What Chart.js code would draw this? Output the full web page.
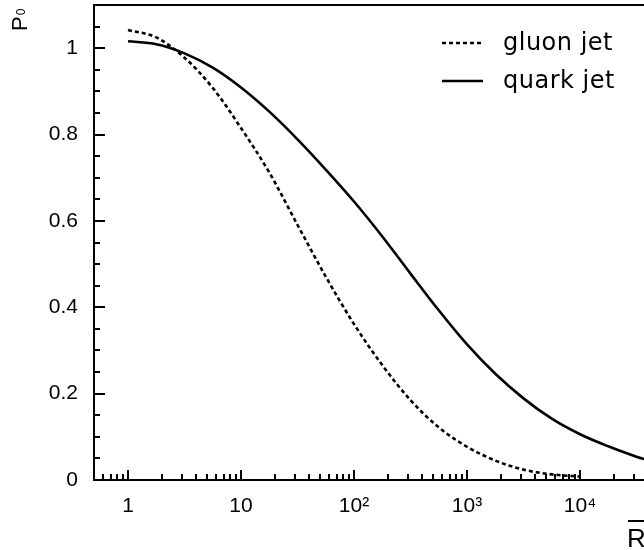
<!DOCTYPE html>
<html>
<head>
<meta charset="utf-8">
<script src="https://cdn.jsdelivr.net/npm/chart.js@4.4.1/dist/chart.umd.min.js"></script>
<style>
  html, body { margin: 0; padding: 0; background: #fff; overflow: hidden; }
  #wrap { width: 644px; height: 550px; }
</style>
</head>
<body>
<div id="wrap"><canvas id="c" width="644" height="550"></canvas></div>
<script>
// ---- data (R at quarter-decade steps) ----
const rValues = [1, 1.78, 3.16, 5.62, 10, 17.8, 31.6, 56.2, 100, 178, 316, 562,
                 1000, 1780, 3160, 5620, 10000, 17800, 31600, 56200];
const gluonP = [1.042, 1.025, 0.978, 0.908, 0.815, 0.712, 0.591, 0.471, 0.361, 0.266, 0.185, 0.122,
                0.077, 0.045, 0.024, 0.013, 0.008];
const quarkP = [1.016, 1.009, 0.988, 0.955, 0.909, 0.853, 0.789, 0.719, 0.645, 0.564, 0.478, 0.393,
                0.314, 0.246, 0.189, 0.142, 0.106, 0.078, 0.054, 0.035];
const seriesNames = ['gluon jet', 'quark jet'];
const xTickValues = [1, 10, 100, 1000, 10000];
const xTickLabels = ['1', '10', '10\u00B2', '10\u00B3', '10\u2074'];
const yTickValues = [0, 0.2, 0.4, 0.6, 0.8, 1];
const yTickLabels = ['0', '0.2', '0.4', '0.6', '0.8', '1'];
const xAxisTitle = 'R';
const yAxisTitle = 'P';
const yAxisSub = '0';

const toPoints = (ys) => ys.map((v, i) => ({ x: rValues[i], y: v }));

const tickFont = '"Liberation Sans", Arial, sans-serif';

const framePlugin = {
  id: 'frameTicks',
  afterDatasetsDraw(chart) {
    const { ctx, chartArea: a, scales: { x, y } } = chart;
    ctx.save();
    ctx.strokeStyle = '#000';
    ctx.lineCap = 'butt';
    // y ticks (inward)
    ctx.lineWidth = 2;
    for (let i = 0; i <= 22; i++) {
      const v = i * 0.05;
      const py = Math.round(y.getPixelForValue(v));
      const len = (i % 4 === 0) ? 11 : 6;
      ctx.beginPath();
      ctx.moveTo(a.left, py);
      ctx.lineTo(a.left + len, py);
      ctx.stroke();
    }
    // x ticks (inward)
    for (let d = -1; d <= 5; d++) {
      for (let m = 1; m <= 9; m++) {
        const v = m * Math.pow(10, d);
        if (v < x.min || v > x.max) continue;
        const px = Math.round(x.getPixelForValue(v));
        const len = (m === 1) ? 10 : 6;
        ctx.beginPath();
        ctx.moveTo(px, a.bottom);
        ctx.lineTo(px, a.bottom - len);
        ctx.stroke();
      }
    }
    // frame
    ctx.lineWidth = 2;
    ctx.beginPath();
    ctx.moveTo(a.right + 5, a.top);
    ctx.lineTo(a.left, a.top);
    ctx.lineTo(a.left, a.bottom);
    ctx.lineTo(a.right + 5, a.bottom);
    ctx.stroke();

    // legend
    const ds = chart.data.datasets;
    const rows = [{ y: 43, base: 50 }, { y: 81, base: 88 }];
    ctx.font = '24px "DejaVu Sans", sans-serif';
    if ('letterSpacing' in ctx) ctx.letterSpacing = '0.5px';
    ctx.fillStyle = '#000';
    ctx.textAlign = 'left';
    ctx.textBaseline = 'alphabetic';
    ds.forEach((d, i) => {
      ctx.save();
      ctx.lineWidth = 2.6;
      ctx.setLineDash(d.borderDash || []);
      ctx.beginPath();
      ctx.moveTo(442, rows[i].y);
      ctx.lineTo(483, rows[i].y);
      ctx.stroke();
      ctx.restore();
      ctx.fillText(d.label, 503, rows[i].base);
    });
    if ('letterSpacing' in ctx) ctx.letterSpacing = '0px';

    // y axis title (rotated)
    ctx.save();
    ctx.translate(27, 31);
    ctx.rotate(-Math.PI / 2);
    ctx.font = '22px ' + tickFont;
    ctx.fillText(yAxisTitle, 0, 0);
    const pw = ctx.measureText(yAxisTitle).width;
    ctx.font = '12px ' + tickFont;
    ctx.fillText(yAxisSub, pw + 1, -2);
    ctx.restore();

    // x axis title with overbar
    ctx.font = '26px ' + tickFont;
    ctx.fillText(xAxisTitle, 627, 547);
    const rw = ctx.measureText(xAxisTitle).width;
    ctx.lineWidth = 2;
    ctx.beginPath();
    ctx.moveTo(628, 521);
    ctx.lineTo(628 + rw, 521);
    ctx.stroke();
    ctx.restore();
  }
};

const xMin = 0.5;
const xMax = Math.pow(10, Math.log10(0.5) + 550 / 113);

new Chart(document.getElementById('c'), {
  type: 'line',
  data: {
    datasets: [
      {
        label: seriesNames[0],
        data: toPoints(gluonP),
        borderColor: '#000',
        borderWidth: 2.6,
        borderDash: [4, 3],
        pointRadius: 0,
        fill: false,
        cubicInterpolationMode: 'monotone'
      },
      {
        label: seriesNames[1],
        data: toPoints(quarkP),
        borderColor: '#000',
        borderWidth: 2.6,
        pointRadius: 0,
        fill: false,
        cubicInterpolationMode: 'monotone'
      }
    ]
  },
  options: {
    responsive: false,
    animation: false,
    devicePixelRatio: 1,
    layout: { padding: { top: 5, right: 0, left: 0, bottom: 0 } },
    plugins: { legend: { display: false }, tooltip: { enabled: false } },
    scales: {
      x: {
        type: 'logarithmic',
        min: xMin,
        max: xMax,
        border: { display: false },
        grid: { display: false, drawTicks: false },
        afterBuildTicks: (s) => { s.ticks = xTickValues.map(v => ({ value: v })); },
        afterFit: (s) => { s.height = 70; s.paddingLeft = 0; s.paddingRight = 0; },
        ticks: {
          autoSkip: false,
          maxRotation: 0,
          padding: 14,
          color: '#000',
          font: { family: tickFont, size: 21 },
          callback: (v) => {
            const i = xTickValues.indexOf(v);
            return i >= 0 ? xTickLabels[i] : '';
          }
        }
      },
      y: {
        type: 'linear',
        min: 0,
        max: 1.1,
        border: { display: false },
        grid: { display: false, drawTicks: false },
        afterBuildTicks: (s) => { s.ticks = yTickValues.map(v => ({ value: v })); },
        afterFit: (s) => { s.width = 94; s.paddingTop = 0; s.paddingBottom = 0; },
        ticks: {
          autoSkip: false,
          padding: 16,
          color: '#000',
          font: { family: tickFont, size: 21 },
          callback: (v) => {
            const i = yTickValues.findIndex(t => Math.abs(t - v) < 1e-9);
            return i >= 0 ? yTickLabels[i] : '';
          }
        }
      }
    }
  },
  plugins: [framePlugin]
});
</script>
</body>
</html>
